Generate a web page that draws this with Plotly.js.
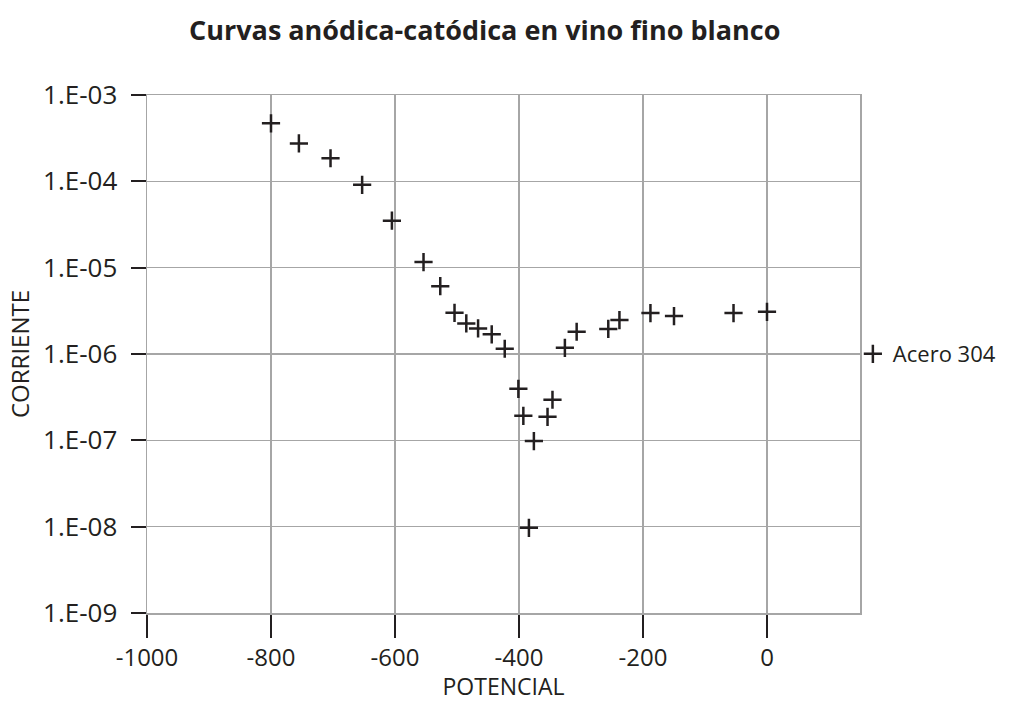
<!DOCTYPE html>
<html>
<head>
<meta charset="utf-8">
<script src="https://cdn.plot.ly/plotly-3.0.1.min.js"></script>
<style>html,body{margin:0;padding:0;background:#fff;}#chart{width:1014px;height:702px;}</style>
</head>
<body>
<div id="chart"></div>
<script>
const potencial = [-800, -755, -704, -653, -605, -554, -527, -504, -485, -466, -444, -423, -401, -393, -384, -376, -354, -346, -326, -307, -256, -238, -188, -150, -54, 0];
const corriente = [4.7e-4, 2.75e-4, 1.85e-4, 9.1e-5, 3.5e-5, 1.16e-5, 6.1e-6, 3.0e-6, 2.26e-6, 1.98e-6, 1.69e-6, 1.15e-6, 3.95e-7, 1.92e-7, 9.7e-9, 9.8e-8, 1.87e-7, 2.95e-7, 1.18e-6, 1.81e-6, 1.95e-6, 2.47e-6, 2.98e-6, 2.75e-6, 2.98e-6, 3.08e-6];
const serieNombre = 'Acero 304';
const xTickVals = [-1000, -800, -600, -400, -200, 0];
const xTickText = ['-1000', '-800', '-600', '-400', '-200', '0'];
const yTickVals = [1e-9, 1e-8, 1e-7, 1e-6, 1e-5, 1e-4, 1e-3];
const yTickText = ['1.E-09', '1.E-08', '1.E-07', '1.E-06', '1.E-05', '1.E-04', '1.E-03'];

const font = '"Open Sans", Lato, sans-serif';
const trace = {
  x: potencial, y: corriente, name: serieNombre, type: 'scatter', mode: 'markers',
  marker: {symbol: 'cross-thin-open', size: 13, color: '#231f20', line: {width: 2.5, color: '#231f20'}}
};
const layout = {
  width: 1014, height: 702,
  margin: {l: 147, r: 154, t: 95, b: 89},
  paper_bgcolor: '#fff', plot_bgcolor: '#fff',
  font: {family: font, color: '#231f20', size: 21},
  title: {text: '<b>Curvas anódica-catódica en vino fino blanco</b>', x: 0.478, xanchor: 'center', y: 0.957, yanchor: 'middle', font: {size: 27, family: font}},
  xaxis: {
    range: [-1000, 150], tickvals: xTickVals, ticktext: xTickText, ticks: 'outside', ticklen: 23, tickwidth: 2, tickcolor: '#231f20',
    showgrid: true, gridcolor: '#a6a6a6', gridwidth: 1.5, zeroline: false,
    showline: true, linecolor: '#a6a6a6', linewidth: 1.5, mirror: true,
    tickfont: {size: 24}, title: {text: 'POTENCIAL', font: {size: 23}, standoff: 7}
  },
  yaxis: {
    type: 'log', range: [-9, -3], tickvals: yTickVals, ticktext: yTickText,
    ticks: 'outside', ticklen: 15, tickwidth: 2, tickcolor: '#231f20', ticklabelstandoff: 8,
    showgrid: true, gridcolor: '#a6a6a6', gridwidth: 1.5, zeroline: false,
    showline: true, linecolor: '#a6a6a6', linewidth: 1.5, mirror: true,
    tickfont: {size: 26}, title: {text: 'CORRIENTE', font: {size: 24}, standoff: 6}
  },
  showlegend: true,
  legend: {x: 0.99, xanchor: 'left', y: 0.5, yanchor: 'middle', font: {size: 22}, bgcolor: 'rgba(0,0,0,0)', itemwidth: 30}
};
Plotly.newPlot('chart', [trace], layout, {displayModeBar: false, staticPlot: true});
</script>
</body>
</html>
